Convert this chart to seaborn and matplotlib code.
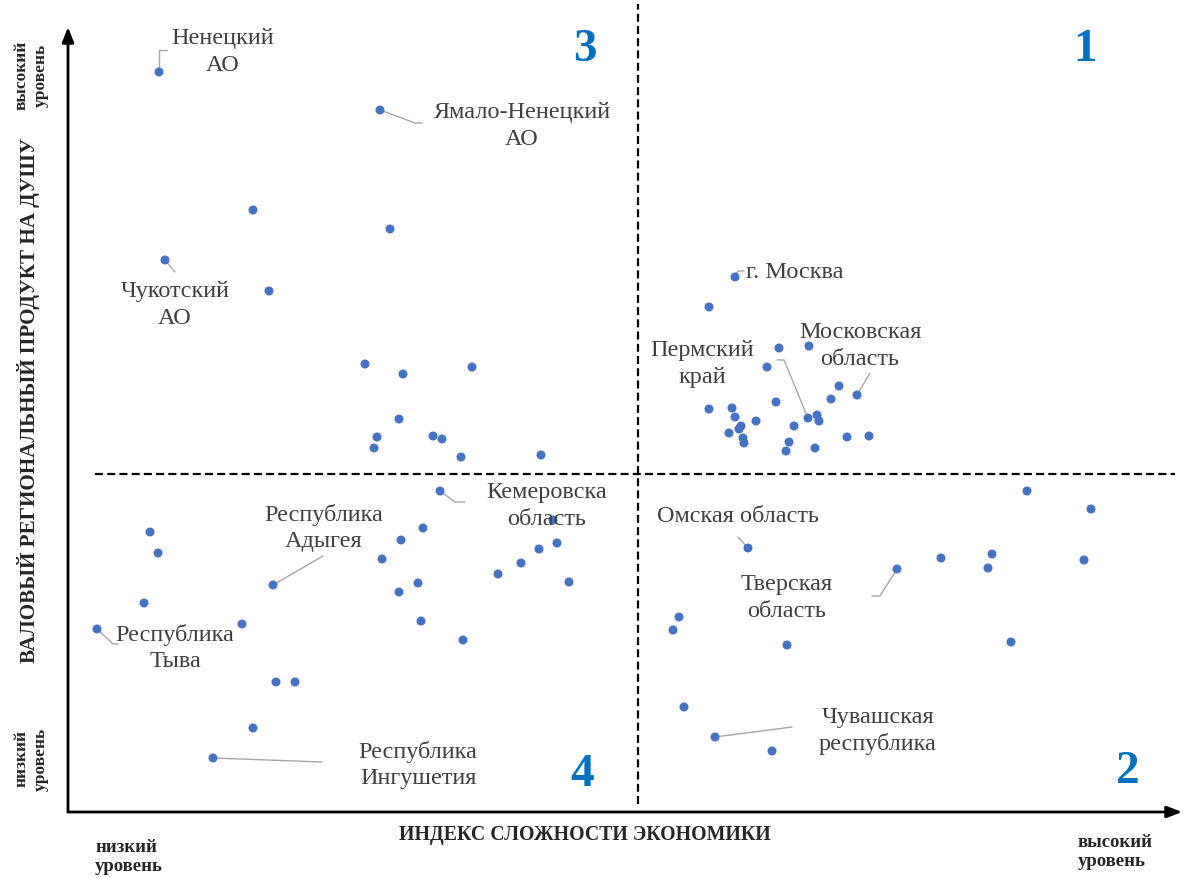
import numpy as np
import pandas as pd
import seaborn as sns
import matplotlib.pyplot as plt

# Индекс сложности экономики (x) и ВРП на душу (y), условные единицы
eci = [159, 380, 253, 390, 165, 269, 365, 403, 472, 399, 377, 374, 433, 442, 461, 541,
       735, 709, 779, 809, 767, 839, 831, 857, 776, 709, 732, 735, 756, 808, 817, 819,
       794, 741, 739, 729, 743, 744, 789, 786, 815, 847, 869,
       748, 897, 679, 673, 787, 684, 715, 772, 1027, 1091, 941, 992, 988, 1084, 1011,
       440, 150, 158, 273, 144, 97, 242, 276, 295, 253, 213, 423, 401, 382, 418, 399,
       421, 463, 498, 521, 539, 557, 553, 569]
grp = [806, 768, 668, 649, 618, 587, 514, 504, 511, 459, 441, 430, 442, 439, 421, 423,
       601, 571, 530, 532, 511, 492, 479, 483, 476, 469, 470, 461, 457, 460, 463, 457,
       452, 452, 449, 445, 440, 435, 436, 427, 430, 441, 442,
       330, 309, 261, 248, 233, 171, 141, 127, 387, 369, 320, 324, 310, 318, 236,
       387, 346, 325, 293, 275, 249, 254, 196, 196, 150, 120, 350, 338, 319, 295, 286,
       257, 238, 304, 315, 329, 335, 358, 296]

# границы квадрантов
x_split = 638
y_split = 404

quadrant_names = ['1', '2', '3', '4']

df = pd.DataFrame({'eci': eci, 'grp': grp})

sns.set_style('white')
plt.rcParams['font.family'] = ['Liberation Serif', 'DejaVu Serif']
serif = ['Liberation Serif', 'DejaVu Serif']

fig = plt.figure(figsize=(12, 8.79), dpi=100)
ax = fig.add_axes([68 / 1200, 66 / 879, 1114 / 1200, 785 / 879])
ax.set_xlim(68, 1182)
ax.set_ylim(66, 851)

sns.scatterplot(data=df, x='eci', y='grp', color='#4472C4', s=42,
                edgecolor='none', ax=ax, zorder=3)

# пунктирные линии квадрантов
ax.plot([x_split, x_split], [74, 874], ls=(0, (3.6, 1.9)), color='black', lw=1.6,
        clip_on=False)
ax.plot([95, 1175], [y_split, y_split], ls=(0, (3.6, 1.9)), color='black', lw=1.6)

# оси со стрелками
for s in ax.spines.values():
    s.set_visible(False)
ax.set_xticks([])
ax.set_yticks([])
ax.set_xlabel('')
ax.set_ylabel('')
ax.annotate('', xy=(0, 1), xytext=(0, 0), xycoords='axes fraction',
            arrowprops=dict(arrowstyle='-|>,head_length=0.9,head_width=0.35',
                            lw=2, color='black', shrinkA=0, shrinkB=0))
ax.annotate('', xy=(1, 0), xytext=(0, 0), xycoords='axes fraction',
            arrowprops=dict(arrowstyle='-|>,head_length=0.9,head_width=0.35',
                            lw=2, color='black', shrinkA=0, shrinkB=0))

# подписи регионов с выносками
labels = [
    ('Ненецкий\nАО', (223, 827), 'center', [(159, 806), (159, 828), (167, 828)]),
    ('Ямало-Ненецкий\nАО', (522, 753), 'center', [(380, 768), (415, 755), (422, 755)]),
    ('Чукотский\nАО', (175, 574), 'center', [(165, 618), (175, 606)]),
    ('г. Москва', (746, 607), 'left', [(735, 601), (738, 607), (744, 607)]),
    ('Московская\nобласть', (860, 533), 'center', [(857, 483), (870, 505)]),
    ('Пермский\nкрай', (702, 515), 'center', [(777, 518), (784, 518), (808, 460)]),
    ('Кемеровска\nобласть', (547, 373), 'center', [(440, 387), (455, 376), (465, 376)]),
    ('Республика\nАдыгея', (324, 351), 'center', [(273, 293), (323, 322)]),
    ('Республика\nТыва', (175, 231), 'center', [(97, 249), (113, 234), (118, 234)]),
    ('Республика\nИнгушетия', (418, 114), 'center', [(213, 120), (322, 116)]),
    ('Омская область', (738, 363), 'center', [(738, 341), (748, 330)]),
    ('Тверская\nобласть', (787, 281), 'center', [(897, 309), (880, 282), (872, 282)]),
    ('Чувашская\nреспублика', (878, 148), 'center', [(715, 141), (792, 151)]),
]
for text, (tx, ty), ha, leader in labels:
    lx, ly = zip(*leader)
    ax.plot(lx, ly, color='#A6A6A6', lw=1, zorder=2)
    ax.text(tx, ty, text, ha=ha, va='center', fontsize=17.5, color='#404040',
            family=serif, linespacing=1.35, zorder=4)

# номера квадрантов
for num, (qx, qy) in zip(quadrant_names, [(1085, 829), (1128, 107), (585, 829), (582, 104)]):
    ax.text(qx, qy, num, ha='center', va='center', fontsize=34, fontweight='bold',
            color='#0070C0', family=serif)

# подписи осей
fig.text(29 / 1200, 1 - 400 / 879, 'ВАЛОВЫЙ РЕГИОНАЛЬНЫЙ ПРОДУКТ НА ДУШУ',
         rotation=90, ha='center', va='center', fontsize=15.2, fontweight='bold')
fig.text(585 / 1200, 1 - 835 / 879, 'ИНДЕКС СЛОЖНОСТИ ЭКОНОМИКИ',
         ha='center', va='center', fontsize=14.3, fontweight='bold')
fig.text(31 / 1200, 1 - 75 / 879, 'высокий\nуровень', rotation=90,
         ha='center', va='center', fontsize=12.5, fontweight='bold', linespacing=1.3)
fig.text(31 / 1200, 1 - 759 / 879, 'низкий\nуровень', rotation=90,
         ha='center', va='center', fontsize=12.5, fontweight='bold', linespacing=1.3)
fig.text(95 / 1200, 1 - 857 / 879, 'низкий\nуровень',
         ha='left', va='center', fontsize=13.5, fontweight='bold', linespacing=1.15)
fig.text(1078 / 1200, 1 - 852 / 879, 'высокий\nуровень',
         ha='left', va='center', fontsize=13.5, fontweight='bold', linespacing=1.15)

fig.savefig('out.png', dpi=100)
